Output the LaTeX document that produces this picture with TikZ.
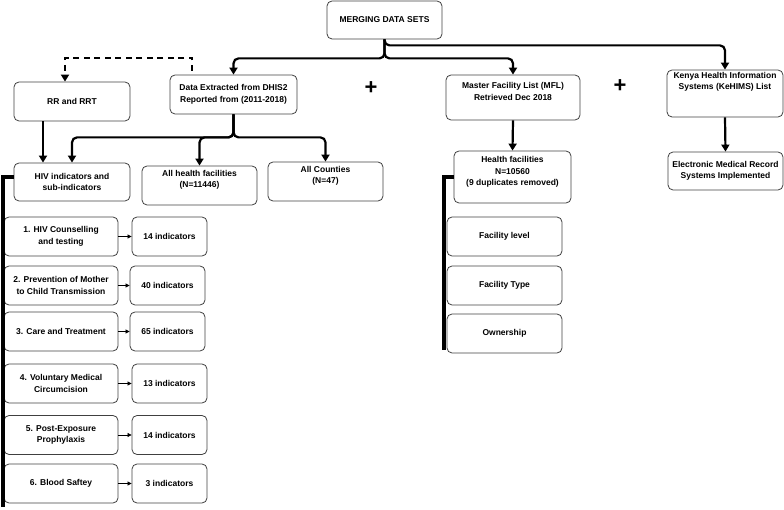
\documentclass[tikz,border=0pt]{standalone}
\usepackage{fontspec}
\setmainfont{Liberation Sans}
\usetikzlibrary{arrows.meta}
\newcommand{\lowr}[1]{\rule[-#1]{0pt}{0pt}}

\begin{document}
\begin{tikzpicture}[x=1pt,y=-1pt,
	box/.style={draw=black!75,line width=0.8pt,rounded corners=5pt,align=center,inner sep=2pt,font=\bfseries\fontsize{8.5}{11.5}\selectfont},
	conn/.style={line width=2.2pt,rounded corners=5pt,-{Triangle[width=8pt,length=7pt]}},
	tiny/.style={line width=0.7pt,-{Triangle[width=4pt,length=4pt]}},
	bar/.style={line width=4.5pt},
	plus/.style={font=\bfseries\fontsize{22}{22}\selectfont}]
	\useasboundingbox (0,0) rectangle (784,510);

	\node[box,minimum width=115pt,minimum height=38pt] (merge) at (384.5,20) {MERGING DATA SETS};
	\node[box,minimum width=116pt,minimum height=39pt] (rr) at (72,101.5) {RR and RRT};
	\node[box,minimum width=127pt,minimum height=39pt] (dhis) at (233.5,94.5) {Data Extracted from DHIS2\\Reported from (2011-2018)};
	\node[box,minimum width=134pt,minimum height=45pt] (mfl) at (513,97.5) {Master Facility List (MFL)\\Retrieved Dec 2018\lowr{12pt}};
	\node[box,minimum width=116pt,minimum height=47pt] (kenya) at (725,93.5) {Kenya Health Information\\Systems (KeHIMS) List\lowr{25pt}};
	\node[plus] (plusa) at (371,88) {+};
	\node[plus] (plusb) at (620,86) {+};

	\node[box,minimum width=115pt,minimum height=38pt] (emr) at (725.5,171) {Electronic Medical Record\\Systems Implemented};
	\node[box,minimum width=117pt,minimum height=52pt] (hf) at (512.5,177) {Health facilities\\N=10560\\(9 duplicates removed)\lowr{12pt}};
	\node[box,minimum width=116pt,minimum height=38pt] (hiv) at (72,182) {HIV indicators and\\sub-indicators};
	\node[box,minimum width=115pt,minimum height=39pt] (allhf) at (199.5,185.5) {All health facilities\\(N=11446)\lowr{13pt}};
	\node[box,minimum width=115pt,minimum height=39pt] (cnty) at (325.5,181.5) {All Counties\\(N=47)\lowr{13pt}};

	\node[box,minimum width=114pt,minimum height=39pt] (s1) at (61,236.5) {1. HIV Counselling\\and testing};
	\node[box,minimum width=114pt,minimum height=39pt] (s2) at (61,285.5) {2. Prevention of Mother\\to Child Transmission};
	\node[box,minimum width=114pt,minimum height=39pt] (s3) at (61,331.5) {3. Care and Treatment};
	\node[box,minimum width=114pt,minimum height=39pt] (s4) at (61,383.5) {4. Voluntary Medical\\Circumcision};
	\node[box,minimum width=114pt,minimum height=39pt] (s5) at (61,435) {5. Post-Exposure\\Prophylaxis};
	\node[box,minimum width=114pt,minimum height=39pt] (s6) at (61,483.5) {6. Blood Saftey};

	\node[box,minimum width=75pt,minimum height=39pt] (i1) at (169.5,236.5) {14 indicators};
	\node[box,minimum width=75pt,minimum height=39pt] (i2) at (167.5,285.5) {40 indicators};
	\node[box,minimum width=75pt,minimum height=39pt] (i3) at (167.5,331.5) {65 indicators};
	\node[box,minimum width=75pt,minimum height=39pt] (i4) at (169.5,383.5) {13 indicators};
	\node[box,minimum width=75pt,minimum height=39pt] (i5) at (169.5,435) {14 indicators};
	\node[box,minimum width=75pt,minimum height=39pt] (i6) at (169.5,483.5) {3 indicators};

	\node[box,minimum width=115pt,minimum height=39pt] (flev) at (504.5,236.5) {Facility level};
	\node[box,minimum width=115pt,minimum height=39pt] (ftyp) at (504.5,285.5) {Facility Type};
	\node[box,minimum width=115pt,minimum height=39pt] (fown) at (504.5,333.5) {Ownership};

	\draw[conn] (merge.south) -- ++(0,19) -| (dhis.north);
	\draw[conn] (merge.south) -- ++(0,19) -| (mfl.north);
	\draw[conn] (merge.south) -- ++(0,6) -| (kenya.north);

	\coordinate (dstart) at (192,71);
	\draw[conn,dash pattern=on 6pt off 4.5pt,rounded corners=0pt] (dstart) -- (192,58) -| ([xshift=-7pt]rr.north);

	\draw[conn] (dhis.south) -- ++(0,23) -| (hiv.north);
	\draw[conn] (dhis.south) -- ++(0,23) -| (allhf.north);
	\draw[conn] (dhis.south) -- ++(0,23) -| (cnty.north);
	\draw[conn] ([xshift=-29pt]rr.south) -- ([xshift=-29pt]hiv.north);

	\draw[conn] (mfl.south) -- (hf.north);
	\draw[conn] (kenya.south) -- (emr.north);

	\draw[tiny] (s1.east) -- (i1.west);
	\draw[tiny] (s2.east) -- (i2.west);
	\draw[tiny] (s3.east) -- (i3.west);
	\draw[tiny] (s4.east) -- (i4.west);
	\draw[tiny] (s5.east) -- (i5.west);
	\draw[tiny] (s6.east) -- (i6.west);

	\coordinate (hivend) at (3,507);
	\coordinate (hfend) at (444,350);
	\draw[bar] ([yshift=5pt]hiv.west) -| (hivend);
	\draw[bar] (hf.west) -| (hfend);
\end{tikzpicture}
\end{document}
